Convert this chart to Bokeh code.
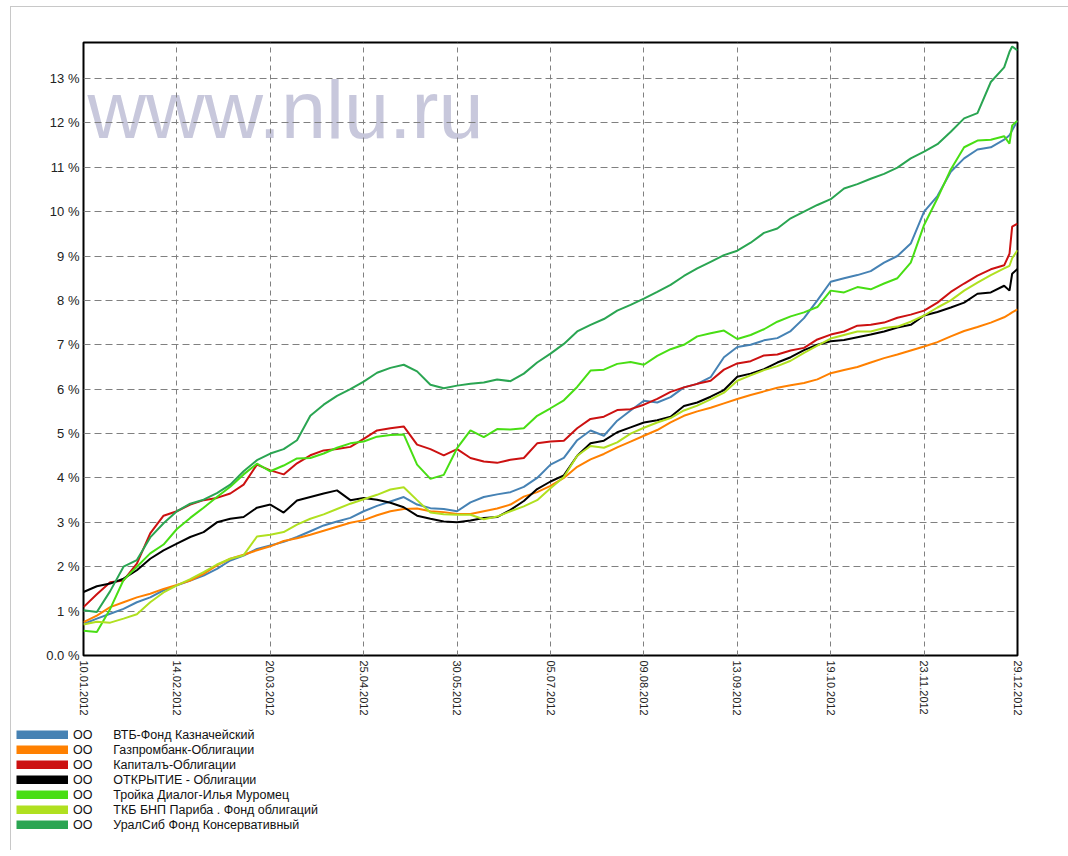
from bokeh.plotting import figure
from bokeh.layouts import column
from bokeh.models import Range1d, FixedTicker, Legend, LegendItem, Label
from bokeh.embed import file_html
from bokeh.resources import INLINE

# x positions: day index from 10.01.2012 (axis ticks are evenly spaced every 35 units)
days = list(range(0, 350, 5)) + [347, 348, 350]

vtb = [0.71, 0.83, 0.94, 1.05, 1.20, 1.31, 1.47, 1.58, 1.69, 1.80,
       1.95, 2.14, 2.25, 2.40, 2.48, 2.56, 2.67, 2.80, 2.93, 3.02,
       3.10, 3.25, 3.37, 3.47, 3.57, 3.40, 3.32, 3.30, 3.25, 3.45,
       3.57, 3.63, 3.68, 3.80, 4.00, 4.30, 4.45, 4.85, 5.07, 4.95,
       5.29, 5.52, 5.74, 5.70, 5.82, 6.04, 6.12, 6.27, 6.72, 6.95,
       7.00, 7.10, 7.15, 7.31, 7.60, 8.00, 8.42, 8.50, 8.57, 8.66,
       8.85, 9.00, 9.28, 10.00, 10.35, 10.90, 11.20, 11.40, 11.45, 11.62,
       11.72, 11.83, 12.05]

gazprom = [0.75, 0.90, 1.09, 1.20, 1.31, 1.39, 1.50, 1.59, 1.69, 1.84,
           2.03, 2.18, 2.27, 2.37, 2.46, 2.58, 2.64, 2.72, 2.81, 2.90,
           2.99, 3.05, 3.16, 3.25, 3.30, 3.31, 3.25, 3.23, 3.19, 3.19,
           3.25, 3.31, 3.40, 3.58, 3.68, 3.82, 4.00, 4.25, 4.42, 4.54,
           4.69, 4.82, 4.95, 5.08, 5.25, 5.40, 5.50, 5.58, 5.68, 5.78,
           5.87, 5.95, 6.03, 6.09, 6.14, 6.22, 6.36, 6.43, 6.50, 6.60,
           6.70, 6.78, 6.87, 6.96, 7.06, 7.19, 7.31, 7.40, 7.50, 7.62,
           7.69, 7.73, 7.80]

kapital = [1.09, 1.38, 1.65, 1.69, 2.07, 2.75, 3.15, 3.25, 3.40, 3.50,
           3.55, 3.65, 3.85, 4.30, 4.17, 4.08, 4.33, 4.51, 4.62, 4.65,
           4.70, 4.88, 5.07, 5.12, 5.16, 4.75, 4.65, 4.51, 4.65, 4.45,
           4.37, 4.34, 4.41, 4.45, 4.78, 4.82, 4.84, 5.12, 5.33, 5.38,
           5.53, 5.55, 5.65, 5.78, 5.94, 6.04, 6.12, 6.19, 6.44, 6.58,
           6.63, 6.76, 6.78, 6.87, 6.93, 7.12, 7.23, 7.30, 7.43, 7.45,
           7.50, 7.61, 7.68, 7.77, 7.95, 8.19, 8.38, 8.56, 8.70, 8.79,
           9.05, 9.66, 9.73]

otkr = [1.43, 1.56, 1.62, 1.73, 1.92, 2.18, 2.37, 2.52, 2.67, 2.78,
        3.00, 3.08, 3.12, 3.33, 3.40, 3.22, 3.49, 3.57, 3.65, 3.72,
        3.50, 3.55, 3.51, 3.44, 3.34, 3.15, 3.08, 3.02, 3.00, 3.04,
        3.10, 3.12, 3.28, 3.48, 3.75, 3.92, 4.06, 4.50, 4.78, 4.84,
        5.03, 5.14, 5.25, 5.30, 5.38, 5.62, 5.70, 5.83, 5.98, 6.28,
        6.35, 6.45, 6.60, 6.72, 6.88, 7.00, 7.08, 7.11, 7.17, 7.23,
        7.30, 7.39, 7.45, 7.66, 7.74, 7.84, 7.95, 8.15, 8.18, 8.33,
        8.22, 8.60, 8.71]

troika = [0.56, 0.53, 1.05, 1.70, 2.00, 2.30, 2.50, 2.85, 3.10, 3.33,
          3.57, 3.80, 4.08, 4.32, 4.15, 4.28, 4.44, 4.45, 4.55, 4.68,
          4.78, 4.82, 4.93, 4.97, 4.98, 4.30, 3.98, 4.07, 4.67, 5.07,
          4.92, 5.10, 5.09, 5.12, 5.40, 5.57, 5.75, 6.05, 6.42, 6.44,
          6.57, 6.61, 6.55, 6.75, 6.90, 7.00, 7.19, 7.26, 7.32, 7.13,
          7.22, 7.35, 7.52, 7.64, 7.73, 7.85, 8.22, 8.18, 8.30, 8.25,
          8.38, 8.50, 8.85, 9.70, 10.30, 10.95, 11.45, 11.60, 11.62, 11.70,
          11.53, 11.94, 12.05]

tkb = [0.70, 0.76, 0.74, 0.83, 0.93, 1.20, 1.42, 1.58, 1.72, 1.88,
       2.05, 2.18, 2.26, 2.68, 2.72, 2.78, 2.95, 3.08, 3.18, 3.30,
       3.42, 3.52, 3.62, 3.74, 3.79, 3.50, 3.22, 3.18, 3.17, 3.17,
       3.07, 3.13, 3.25, 3.36, 3.50, 3.77, 4.02, 4.50, 4.72, 4.68,
       4.80, 5.00, 5.13, 5.25, 5.35, 5.52, 5.63, 5.77, 5.92, 6.19,
       6.31, 6.43, 6.52, 6.64, 6.82, 6.98, 7.14, 7.22, 7.30, 7.30,
       7.38, 7.41, 7.52, 7.66, 7.84, 8.00, 8.22, 8.40, 8.57, 8.72,
       8.78, 8.95, 9.13]

uralsib = [1.02, 0.98, 1.45, 2.00, 2.15, 2.66, 2.98, 3.25, 3.42, 3.51,
           3.66, 3.85, 4.15, 4.40, 4.55, 4.65, 4.85, 5.40, 5.65, 5.85,
           6.00, 6.17, 6.37, 6.48, 6.55, 6.40, 6.10, 6.02, 6.08, 6.12,
           6.15, 6.22, 6.18, 6.35, 6.60, 6.80, 7.02, 7.30, 7.45, 7.58,
           7.77, 7.90, 8.04, 8.19, 8.35, 8.55, 8.72, 8.87, 9.02, 9.12,
           9.30, 9.52, 9.62, 9.85, 10.00, 10.15, 10.28, 10.52, 10.62, 10.74,
           10.85, 10.99, 11.20, 11.35, 11.52, 11.80, 12.10, 12.22, 12.92, 13.25,
           13.60, 13.72, 13.63]

series_names = ["ВТБ-Фонд Казначейский", "Газпромбанк-Облигации", "Капиталъ-Облигации",
                "ОТКРЫТИЕ - Облигации", "Тройка Диалог-Илья Муромец",
                "ТКБ БНП Париба . Фонд облигаций", "УралСиб Фонд Консервативный"]
series_values = [vtb, gazprom, kapital, otkr, troika, tkb, uralsib]
series_colors = ["#4682B4", "#FF8000", "#CC1111", "#000000", "#48DE14", "#B0E020", "#2AA552"]

tick_days = [0, 35, 70, 105, 140, 175, 210, 245, 280, 315, 350]
date_labels = ["10.01.2012", "14.02.2012", "20.03.2012", "25.04.2012", "30.05.2012",
               "05.07.2012", "09.08.2012", "13.09.2012", "19.10.2012", "23.11.2012",
               "29.12.2012"]
y_ticks = list(range(0, 14))
y_labels = ["0.0 %"] + ["%d %%" % i for i in range(1, 14)]

for s in series_values:
    assert len(s) == len(days), len(s)

FONT = "Liberation Sans"
W = 1057

p = figure(width=W, height=713, x_range=Range1d(0, 350), y_range=Range1d(0, 13.81),
           output_backend="svg", toolbar_location=None,
           min_border_left=72, min_border_right=51, min_border_top=35, min_border_bottom=65)
p.background_fill_color = "white"
p.border_fill_color = "white"
p.outline_line_color = "black"
p.outline_line_width = 2

# axes
p.xaxis.ticker = FixedTicker(ticks=tick_days)
p.xaxis.major_label_overrides = {d: l for d, l in zip(tick_days, date_labels)}
p.xaxis.major_label_orientation = "vertical"
p.yaxis.ticker = FixedTicker(ticks=y_ticks)
p.yaxis.major_label_overrides = {t: l for t, l in zip(y_ticks, y_labels)}
for ax in (p.xaxis, p.yaxis):
    ax.axis_line_color = None
    ax.major_tick_line_color = None
    ax.minor_tick_line_color = None
    ax.major_tick_out = 0
    ax.major_tick_in = 0
    ax.major_label_text_font = FONT
    ax.major_label_text_color = "#222222"
p.xaxis.major_label_standoff = 5
p.yaxis.major_label_standoff = 4
p.xaxis.major_label_text_font_size = "11px"
p.yaxis.major_label_text_font_size = "13px"

p.xgrid.grid_line_color = "#808080"
p.xgrid.grid_line_dash = "5 4"
p.xgrid.grid_line_width = 1
p.ygrid.grid_line_color = "#808080"
p.ygrid.grid_line_dash = "7 4"
p.ygrid.grid_line_width = 1

# watermark
wm = Label(x=1.5, y=12.28, text="www.nlu.ru", text_font=FONT, text_font_size="81px",
           text_color="#C8C8DC", text_baseline="alphabetic", level="image")
p.add_layout(wm)

for vals, col in zip(series_values, series_colors):
    p.line(days, vals, line_color=col, line_width=2)

# legend panel below the chart (separate root so its frame is not aligned to the chart)
leg = figure(width=W, height=130, x_range=Range1d(0, 1), y_range=Range1d(0, 1),
             output_backend="svg", toolbar_location=None,
             x_axis_location=None, y_axis_location=None, min_border=0)
leg.grid.visible = False
leg.outline_line_color = None
leg.background_fill_color = "white"
leg.border_fill_color = "white"

items = []
for name, col in zip(series_names, series_colors):
    swatch = leg.line(x=[float("nan")], y=[float("nan")], line_color=col, line_width=9)
    items.append(LegendItem(label="OO" + "\u00a0" * 6 + name, renderers=[swatch]))

legend = Legend(items=items, location=(5, 18), orientation="vertical",
                glyph_width=52, glyph_height=9, label_standoff=5, label_height=15,
                spacing=0, padding=0, margin=0, border_line_color=None,
                background_fill_alpha=0, label_text_font=FONT,
                label_text_font_size="12.5px", label_text_color="#111111")
leg.add_layout(legend, "center")

top = column(p, spacing=0,
             styles={"margin-left": "10px", "margin-top": "6px",
                     "border-left": "1px solid #c8c8c8", "border-top": "1px solid #c8c8c8"})
bottom = column(leg, spacing=0,
                styles={"margin-left": "10px", "border-left": "1px solid #c8c8c8"})

html = file_html([top, bottom], INLINE)
html = html.replace("<body>", '<body style="background-color:#FFFDF2;">', 1)
open("out.html", "w").write(html)
